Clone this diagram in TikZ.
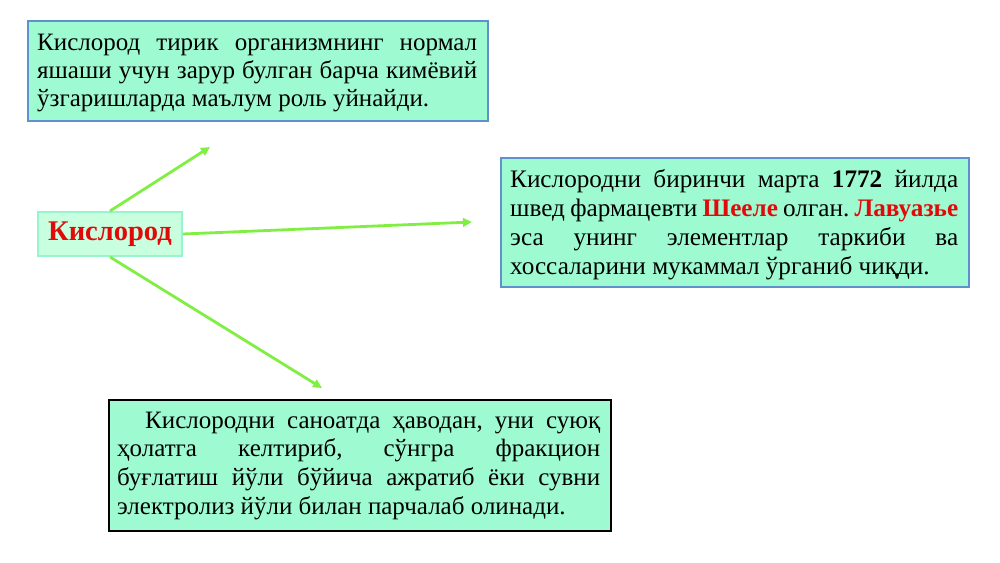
\documentclass[tikz,border=0pt]{standalone}
\usepackage{fontspec}
\setmainfont{Liberation Serif}
\usetikzlibrary{arrows.meta}
\definecolor{boxfill}{RGB}{158,250,208}
\definecolor{kfill}{RGB}{200,255,222}
\definecolor{kborder}{RGB}{150,245,205}
\definecolor{blueborder}{RGB}{95,145,205}
\definecolor{arrowgreen}{RGB}{128,238,66}
\definecolor{txtred}{RGB}{225,10,10}
\tikzset{
  boxframe/.style={draw=blueborder, line width=1.5pt, fill=boxfill, inner sep=0pt, anchor=north west},
  boxtext/.style={inner sep=0pt, align=justify, anchor=north west},
  keybox/.style={draw=kborder, line width=2pt, fill=kfill, minimum width=144pt, minimum height=44pt, inner sep=0pt, font=\fontsize{28.5}{32}\selectfont\bfseries, text=txtred},
  link/.style={draw=arrowgreen, line width=2.8pt, -{Triangle[length=9pt,width=8.5pt]}}
}
\hyphenpenalty=10000
\exhyphenpenalty=10000
\frenchspacing
\newcommand{\firststrut}{\rule{0pt}{24pt}}
\begin{document}
\begin{tikzpicture}[x=1pt,y=-1pt]
\useasboundingbox (0,0) rectangle (1000,562);
% frames
\node[boxframe, minimum width=460pt, minimum height=100pt] (b1) at (27,20) {};
\node[boxframe, minimum width=468pt, minimum height=129pt] (b2) at (500,157) {};
\node[boxframe, draw=black, minimum width=502pt, minimum height=131pt] (b3) at (108,399) {};
% texts
\node[boxtext, text width=440pt, font=\fontsize{25}{28}\selectfont] (t1) at (37,26.5)
  {\firststrut Кислород тирик организмнинг нормал\linebreak яшаши учун зарур булган барча кимёвий\linebreak ўзгаришларда маълум роль уйнайди.};
\node[boxtext, text width=448pt, font=\fontsize{25.2}{29}\selectfont] (t2) at (510,163)
  {\firststrut Кислородни биринчи марта \textbf{1772} йилда\linebreak швед фармацевти \textbf{\textcolor{txtred}{Шееле}} олган. \textbf{\textcolor{txtred}{Лавуазье}}\linebreak эса унинг элементлар таркиби ва\linebreak хоссаларини мукаммал ўрганиб чиқди.};
\node[boxtext, text width=483pt, font=\fontsize{25}{28.7}\selectfont] (t3) at (117,404)
  {\firststrut\hspace*{28pt}Кислородни саноатда ҳаводан, уни суюқ\linebreak ҳолатга келтириб, сўнгра фракцион\linebreak буғлатиш йўли бўйича ажратиб ёки сувни\linebreak электролиз йўли билан парчалаб олинади.};
\node[keybox] (k) at (110,234) {Кислород};
\coordinate (e1) at (210,147);
\coordinate (e2) at (472,222);
\coordinate (e3) at (322,388);
\draw[link] (k.north) -- (e1);
\draw[link] (k.east) -- (e2);
\draw[link] (k.south) -- (e3);
\end{tikzpicture}
\end{document}
